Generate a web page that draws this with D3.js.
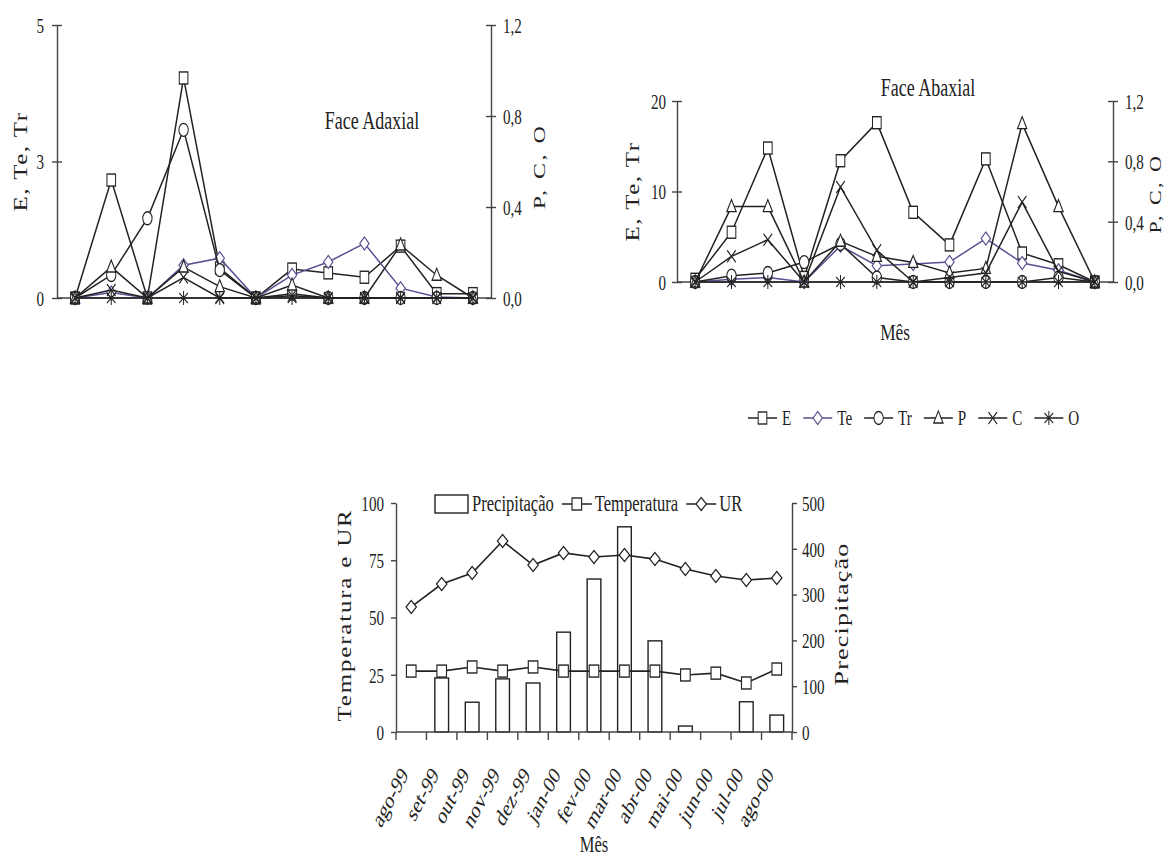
<!DOCTYPE html>
<html>
<head>
<meta charset="utf-8">
<script src="https://cdn.jsdelivr.net/npm/d3@7"></script>
<style>
  body { margin: 0; background: #fff; }
  text { font-family: "Liberation Serif", "Times New Roman", serif; fill: #222; }
</style>
</head>
<body>
<svg id="chart" width="1166" height="859"></svg>
<script>
// ---- data ----
var sampleMonths = ['ago-99', 'set-99', 'out-99', 'nov-99', 'dez-99', 'jan-00',
  'fev-00', 'mar-00', 'abr-00', 'mai-00', 'jun-00', 'jul-00'];

// Face Adaxial (E, Te, Tr on left axis; P, C, O on right axis)
var adaxE  = [0, 2.16, 0, 4.03, 0.55, 0, 0.53, 0.46, 0.38, 0.95, 0.08, 0.08];
var adaxTe = [0, 0.1, 0, 0.6, 0.73, 0, 0.42, 0.66, 1.0, 0.18, 0.02, 0];
var adaxTr = [0, 0.42, 1.46, 3.08, 0.51, 0, 0.08, 0, 0, 0, 0, 0];
var adaxP  = [0, 0.136, 0, 0.136, 0.05, 0, 0.057, 0, 0, 0.233, 0.1, 0];
var adaxC  = [0, 0.035, 0, 0.09, 0, 0, 0.01, 0, 0, 0, 0, 0];
var adaxO  = [0, 0, 0, 0, 0, 0, 0, 0, 0, 0, 0, 0];

// Face Abaxial
var abaxE  = [0.3, 5.5, 14.8, 0.5, 13.4, 17.6, 7.7, 4.1, 13.6, 3.2, 1.9, 0];
var abaxTe = [0, 0.3, 0.5, 0, 4.0, 1.8, 2.0, 2.2, 4.8, 2.1, 1.3, 0];
var abaxTr = [0, 0.7, 1.0, 2.2, 4.2, 0.5, 0, 0, 0, 0, 0.5, 0];
var abaxP  = [0, 0.5, 0.5, 0, 0.27, 0.17, 0.13, 0.06, 0.09, 1.05, 0.5, 0];
var abaxC  = [0, 0.17, 0.28, 0, 0.63, 0.21, 0, 0.03, 0.06, 0.53, 0.07, 0];
var abaxO  = [0, 0, 0, 0, 0, 0, 0, 0, 0, 0, 0, 0];

var adaxLeftTicks = [0, 2.5, 5];
var adaxLeftLabels = ['0', '3', '5'];
var abaxLeftTicks = [0, 10, 20];
var abaxLeftLabels = ['0', '10', '20'];
var pcoTicks = [0, 0.4, 0.8, 1.2];
var pcoLabels = ['0,0', '0,4', '0,8', '1,2'];

// climate
var months = ['ago-99', 'set-99', 'out-99', 'nov-99', 'dez-99', 'jan-00', 'fev-00',
  'mar-00', 'abr-00', 'mai-00', 'jun-00', 'jul-00', 'ago-00'];
var precip = [0, 118, 65, 116, 107, 218, 334, 448, 199, 13, 0, 66, 37];
var temp = [26.6, 26.6, 28.4, 26.6, 28.4, 26.6, 26.6, 26.6, 26.6, 24.9, 25.7, 21.4, 27.5];
var ur = [54.6, 64.6, 69.4, 83.4, 72.9, 78.2, 76.4, 77.3, 75.5, 71.2, 68.1, 66.4, 67.2];
var climTicks = [0, 25, 50, 75, 100];
var precipTicks = [0, 100, 200, 300, 400, 500];

var seriesNames = ['E', 'Te', 'Tr', 'P', 'C', 'O'];
var seriesShapes = ['square', 'diamond', 'circle', 'triangle', 'cross', 'star'];
var INK = '#222';
var PURPLE = '#5a4f92';
var seriesColors = [INK, PURPLE, INK, INK, INK, INK];

// ---- helpers ----
var COMP = 0.72;   // the picture is squeezed sideways
var svg = d3.select('#chart');

function hText(g, x, y, str, size, anchor) {
  return g.append('text')
    .attr('transform', 'translate(' + x + ',' + y + ') scale(' + COMP + ',1)')
    .attr('text-anchor', anchor || 'start')
    .attr('font-size', size + 'px')
    .text(str);
}

function vText(g, x, y, str, size, spacing) {
  return g.append('text')
    .attr('transform', 'translate(' + x + ',' + y + ') scale(' + COMP + ',1) rotate(-90)')
    .attr('text-anchor', 'middle')
    .attr('dominant-baseline', 'central')
    .attr('letter-spacing', spacing + 'px')
    .attr('font-size', size + 'px')
    .text(str);
}

function marker(g, shape, color, sx) {
  var m = g.append('g')
    .attr('transform', 'scale(' + (sx || COMP) + ',1)')
    .attr('stroke', color)
    .attr('stroke-width', 1.4)
    .attr('fill', '#fff');
  if (shape === 'square') {
    m.append('rect').attr('x', -6).attr('y', -6).attr('width', 12).attr('height', 12);
  } else if (shape === 'diamond') {
    m.append('path').attr('d', 'M0,-6.5L6.5,0L0,6.5L-6.5,0Z');
  } else if (shape === 'circle') {
    m.append('ellipse').attr('rx', 6.5).attr('ry', 6.5);
  } else if (shape === 'triangle') {
    m.append('path').attr('d', 'M0,-7L6.5,5L-6.5,5Z');
  } else if (shape === 'cross') {
    m.append('path').attr('d', 'M-6,-6L6,6M-6,6L6,-6').attr('fill', 'none');
  } else if (shape === 'star') {
    m.append('path').attr('d', 'M-6,-5L6,5M-6,5L6,-5M0,-7L0,7').attr('fill', 'none');
  }
}

function styleAxis(ax, side, gap, size) {
  ax.select('.domain').attr('stroke', '#444').attr('stroke-width', 1.4);
  ax.selectAll('.tick line').attr('stroke', '#444').attr('stroke-width', 1.4);
  ax.selectAll('.tick text')
    .attr('x', null).attr('dy', '0.35em')
    .attr('fill', INK)
    .attr('font-family', '"Liberation Serif", "Times New Roman", serif')
    .attr('font-size', size + 'px')
    .attr('text-anchor', side < 0 ? 'end' : 'start')
    .attr('transform', 'translate(' + (side * gap) + ',0) scale(' + COMP + ',1)');
}

// ---- top panels ----
function drawPanel(p) {
  var g = svg.append('g');
  var x = d3.scalePoint().domain(sampleMonths).range([p.x0, p.x1]).padding(0.5);
  var yL = d3.scaleLinear().domain([0, p.leftMax]).range([p.y0, p.y1]);
  var yR = d3.scaleLinear().domain([0, 1.2]).range([p.y0, p.y1]);

  g.append('line')
    .attr('x1', p.x0).attr('x2', p.x1)
    .attr('y1', yL(0)).attr('y2', yL(0))
    .attr('stroke', '#444').attr('stroke-width', 1.4);

  var axL = g.append('g')
    .attr('transform', 'translate(' + p.x0 + ',0)')
    .call(d3.axisLeft(yL).tickValues(p.leftTicks)
      .tickFormat(function (d, i) { return p.leftLabels[i]; })
      .tickSizeOuter(0));
  axL.selectAll('.tick line').attr('x1', 5).attr('x2', -5);
  styleAxis(axL, -1, p.gapL, 21);

  var axR = g.append('g')
    .attr('transform', 'translate(' + p.x1 + ',0)')
    .call(d3.axisRight(yR).tickValues(pcoTicks)
      .tickFormat(function (d, i) { return pcoLabels[i]; })
      .tickSizeOuter(0));
  axR.selectAll('.tick line').attr('x1', -5).attr('x2', 5);
  styleAxis(axR, 1, 12, 21);

  p.series.forEach(function (vals, k) {
    var y = k < 3 ? yL : yR;
    var line = d3.line()
      .x(function (d, i) { return x(sampleMonths[i]); })
      .y(function (d) { return y(d); });
    g.append('path')
      .datum(vals)
      .attr('d', line)
      .attr('fill', 'none')
      .attr('stroke', seriesColors[k])
      .attr('stroke-width', 1.5);
    g.selectAll('.m' + k)
      .data(vals)
      .enter().append('g')
      .attr('transform', function (d, i) { return 'translate(' + x(sampleMonths[i]) + ',' + y(d) + ')'; })
      .each(function () { marker(d3.select(this), seriesShapes[k], seriesColors[k]); });
  });

  vText(g, p.labLx, (p.y0 + p.y1) / 2 + p.labLdy, 'E, Te, Tr', 25, 1.5);
  vText(g, p.labRx, (p.y0 + p.y1) / 2 + p.labRdy, 'P, C, O', p.labRsize, 2.5);
  hText(g, p.titleX, p.titleY, p.title, 25, 'middle');
  if (p.xLabel) {
    hText(g, (p.x0 + p.x1) / 2, p.y0 + 58, p.xLabel, 24, 'middle');
  }
}

drawPanel({
  x0: 57, x1: 491, y0: 298, y1: 25, leftMax: 5,
  leftTicks: adaxLeftTicks, leftLabels: adaxLeftLabels, gapL: 13,
  series: [adaxE, adaxTe, adaxTr, adaxP, adaxC, adaxO],
  labLx: 21, labLdy: 0, labRx: 539, labRdy: 5, labRsize: 24,
  title: 'Face Adaxial', titleX: 372, titleY: 129
});

drawPanel({
  x0: 677, x1: 1113, y0: 282, y1: 101, leftMax: 20,
  leftTicks: abaxLeftTicks, leftLabels: abaxLeftLabels, gapL: 11,
  series: [abaxE, abaxTe, abaxTr, abaxP, abaxC, abaxO],
  labLx: 633, labLdy: 0, labRx: 1156, labRdy: 2, labRsize: 22,
  title: 'Face Abaxial', titleX: 928, titleY: 96, xLabel: 'Mês'
});

// ---- shared legend for top panels ----
var leg = svg.append('g');
var lx = 748;
seriesNames.forEach(function (name, k) {
  leg.append('line')
    .attr('x1', lx).attr('x2', lx + 29)
    .attr('y1', 418).attr('y2', 418)
    .attr('stroke', seriesColors[k]).attr('stroke-width', 1.5);
  var mg = leg.append('g').attr('transform', 'translate(' + (lx + 14.5) + ',418)');
  marker(mg, seriesShapes[k], seriesColors[k]);
  var t = hText(leg, lx + 34, 425, name, 21, 'start');
  lx += 34 + t.node().getComputedTextLength() * COMP + 12;
});

// ---- climate chart ----
var cg = svg.append('g');
var bx0 = 396, bx1 = 792, by0 = 732, by1 = 503;
var xb = d3.scaleBand().domain(months).range([bx0, bx1]).paddingInner(0.55).paddingOuter(0.275);
var xp = d3.scalePoint().domain(months).range([bx0, bx1]).padding(0.5);
var yC = d3.scaleLinear().domain([0, 100]).range([by0, by1]);
var yP = d3.scaleLinear().domain([0, 500]).range([by0, by1]);

cg.selectAll('.bar')
  .data(precip)
  .enter().append('rect')
  .attr('x', function (d, i) { return xb(months[i]); })
  .attr('width', xb.bandwidth())
  .attr('y', function (d) { return yP(d); })
  .attr('height', function (d) { return yP(0) - yP(d); })
  .attr('fill', '#fff')
  .attr('stroke', INK)
  .attr('stroke-width', 1.4);

// x axis: baseline, ticks between months, slanted labels
cg.append('line')
  .attr('x1', bx0).attr('x2', bx1).attr('y1', by0).attr('y2', by0)
  .attr('stroke', '#444').attr('stroke-width', 1.4);
var edges = months.map(function (d) { return xp(d) - xp.step() / 2; });
edges.push(xp(months[months.length - 1]) + xp.step() / 2);
cg.selectAll('.xtick')
  .data(edges)
  .enter().append('line')
  .attr('x1', function (d) { return d; }).attr('x2', function (d) { return d; })
  .attr('y1', by0).attr('y2', by0 + 8)
  .attr('stroke', '#444').attr('stroke-width', 1.4);
cg.selectAll('.xlab')
  .data(months)
  .enter().append('text')
  .attr('transform', function (d) {
    return 'translate(' + (xp(d) - 7) + ',' + (by0 + 38) + ') scale(' + COMP + ',1) rotate(-54)';
  })
  .attr('text-anchor', 'end')
  .attr('dy', '0.35em')
  .attr('font-size', '24px')
  .text(function (d) { return d; });

var axC = cg.append('g')
  .attr('transform', 'translate(' + bx0 + ',0)')
  .call(d3.axisLeft(yC).tickValues(climTicks).tickSize(5).tickSizeOuter(0));
styleAxis(axC, -1, 12, 21);

var axP = cg.append('g')
  .attr('transform', 'translate(' + bx1 + ',0)')
  .call(d3.axisRight(yP).tickValues(precipTicks).tickSize(5).tickSizeOuter(0));
styleAxis(axP, 1, 10, 21);

function climLine(vals, shape) {
  var line = d3.line()
    .x(function (d, i) { return xp(months[i]); })
    .y(function (d) { return yC(d); });
  cg.append('path').datum(vals).attr('d', line)
    .attr('fill', 'none').attr('stroke', INK).attr('stroke-width', 1.6);
  cg.selectAll('.c' + shape)
    .data(vals)
    .enter().append('g')
    .attr('transform', function (d, i) { return 'translate(' + xp(months[i]) + ',' + yC(d) + ')'; })
    .each(function () { marker(d3.select(this), shape, INK, 0.8); });
}
climLine(temp, 'square');
climLine(ur, 'diamond');

vText(cg, 345, 615, 'Temperatura e UR', 25, 1.8);
vText(cg, 842, 614, 'Precipitação', 26, 1.2);
hText(cg, (bx0 + bx1) / 2, 852, 'Mês', 23, 'middle');

// climate legend
var cl = cg.append('g');
var cx = 435, cy = 504;
cl.append('rect')
  .attr('x', cx).attr('y', cy - 9).attr('width', 33).attr('height', 18)
  .attr('fill', '#fff').attr('stroke', INK).attr('stroke-width', 1.4);
var t1 = hText(cl, cx + 37, cy + 7, 'Precipitação', 23, 'start');
cx += 37 + t1.node().getComputedTextLength() * COMP + 8;
[['Temperatura', 'square'], ['UR', 'diamond']].forEach(function (item) {
  cl.append('line').attr('x1', cx).attr('x2', cx + 30).attr('y1', cy).attr('y2', cy)
    .attr('stroke', INK).attr('stroke-width', 1.5);
  marker(cl.append('g').attr('transform', 'translate(' + (cx + 15) + ',' + cy + ')'), item[1], INK, 0.8);
  var t = hText(cl, cx + 33, cy + 7, item[0], 23, 'start');
  cx += 33 + t.node().getComputedTextLength() * COMP + 8;
});
</script>
</body>
</html>
